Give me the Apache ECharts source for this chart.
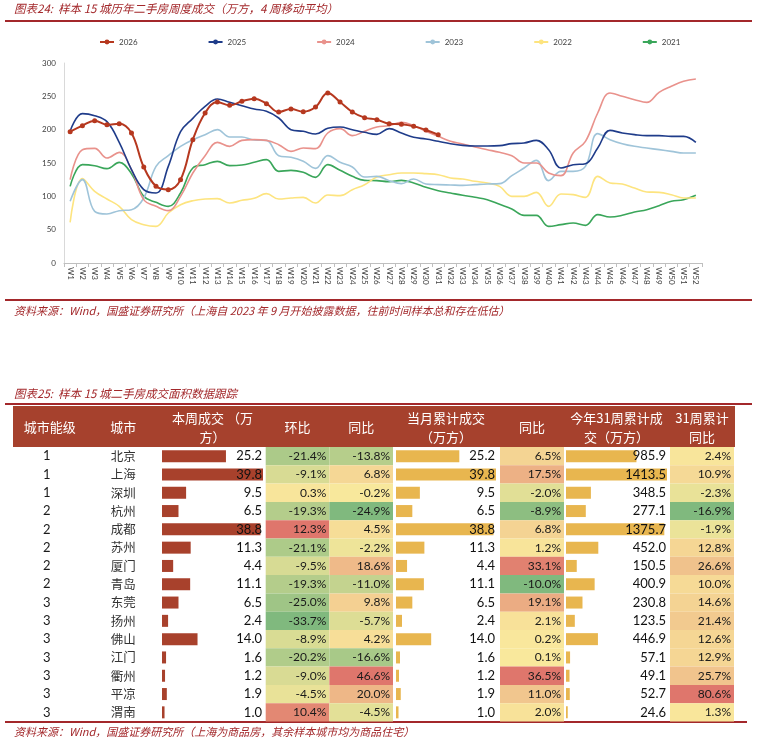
<!DOCTYPE html>
<html lang="zh-CN">
<head>
<meta charset="UTF-8">
<title>样本15城二手房成交</title>
<style>
  * { margin: 0; padding: 0; }
  html, body { background: #fff; }
  #chart-container { width: 757px; height: 746px; }
</style>
</head>
<body>
<div id="chart-container"></div>
<script src="https://cdn.jsdelivr.net/npm/echarts@6/dist/echarts.min.js"></script>
<script>
// ---- weekly line chart data (万方, 4周移动平均) ----
var weeks = ['W1','W2','W3','W4','W5','W6','W7','W8','W9','W10','W11','W12','W13',
  'W14','W15','W16','W17','W18','W19','W20','W21','W22','W23','W24','W25','W26',
  'W27','W28','W29','W30','W31','W32','W33','W34','W35','W36','W37','W38','W39',
  'W40','W41','W42','W43','W44','W45','W46','W47','W48','W49','W50','W51','W52'];
var yTicks = [0, 50, 100, 150, 200, 250, 300];

var y2026 = [197, 206, 213.5, 207.5, 209, 195, 144, 115, 110, 125, 185, 225, 241.5,
  236.5, 242.5, 246.5, 239, 226.5, 231, 227, 234, 255, 241.5, 226.5, 218, 215,
  209, 208, 205, 199.5, 192.5];
var y2025 = [198, 224, 221, 212, 181, 140, 110, 105, 145, 197, 217, 235, 246,
  241, 236, 231, 227.5, 217.5, 200, 197.5, 193.5, 202, 204, 200, 196, 193,
  201.5, 195, 188.5, 186, 182.5, 179, 176.5, 175.5, 175.5, 176, 179, 180, 184,
  170, 142.5, 147.5, 149, 172.5, 199, 195, 192.5, 191, 191, 190, 190, 181];
var y2024 = [125, 170, 172, 157.5, 166, 140, 95, 85, 78.5, 100, 135, 161, 181,
  175, 184, 185, 184, 177.5, 167.5, 172.5, 171.5, 195, 201.5, 191, 197.5, 204,
  206, 211, 206, 197.5, 190, 182.5, 178.5, 174, 170, 166, 161, 150, 150,
  135, 131, 165, 182.5, 225, 255, 250, 245, 241, 256, 265, 272.5, 276];
var y2023 = [92.5, 125, 77.5, 73.5, 78.5, 80, 97.5, 145, 161, 175, 185, 192.5, 200,
  189, 189, 184.5, 184, 161, 158.5, 152.5, 142, 161, 151, 144, 129, 130,
  123.5, 119, 126, 118.5, 117.5, 117, 116.5, 117.5, 118.5, 119, 131, 142.5, 154,
  123.5, 137.5, 137.5, 145, 194, 185, 179, 175, 172.5, 170, 167.5, 165, 165];
var y2022 = [61, 126.5, 107.5, 96, 85, 65, 57.5, 55, 75, 87.5, 93.5, 96, 96.5,
  90, 94, 97, 104, 96, 97.5, 98.5, 90, 102, 101, 110, 117.5, 129,
  132.5, 135, 135, 134, 132.5, 127.5, 126, 122.5, 120, 115, 100, 100, 106,
  85, 103.5, 102.5, 98.5, 130, 120, 118.5, 112.5, 106.5, 106, 102.5, 97.5, 97.5];
var y2021 = [115, 147.5, 146, 141.5, 151, 134, 100, 91, 85, 105, 142.5, 147.5, 152.5,
  146, 147, 151, 155, 137.5, 139, 136, 128.5, 147.5, 139, 130, 124, 123.5,
  122, 124, 120, 113.5, 108.5, 105, 101.5, 98.5, 95, 88, 81, 71.5, 71.5,
  55, 57.5, 60, 56.5, 72.5, 69, 71.5, 76.5, 80, 86, 92.5, 95, 101.5];

// ---- table data ----
var tiers = [1, 1, 1, 2, 2, 2, 2, 2, 3, 3, 3, 3, 3, 3, 3];
var cities = ['北京', '上海', '深圳', '杭州', '成都', '苏州', '厦门', '青岛',
  '东莞', '扬州', '佛山', '江门', '衢州', '平凉', '渭南'];
var weekVol = [25.2, 39.8, 9.5, 6.5, 38.8, 11.3, 4.4, 11.1, 6.5, 2.4, 14.0, 1.6, 1.2, 1.9, 1.0];
var weekMoM = [-21.4, -9.1, 0.3, -19.3, 12.3, -21.1, -9.5, -19.3, -25.0, -33.7, -8.9, -20.2, -9.0, -4.5, 10.4];
var weekYoY = [-13.8, 6.8, -0.2, -24.9, 4.5, -2.2, 18.6, -11.0, 9.8, -5.7, 4.2, -16.6, 46.6, 20.0, -4.5];
var monthVol = [25.2, 39.8, 9.5, 6.5, 38.8, 11.3, 4.4, 11.1, 6.5, 2.4, 14.0, 1.6, 1.2, 1.9, 1.0];
var monthYoY = [6.5, 17.5, -2.0, -8.9, 6.8, 1.2, 33.1, -10.0, 19.1, 2.1, 0.2, 0.1, 36.5, 11.0, 2.0];
var ytdVol = [985.9, 1413.5, 348.5, 277.1, 1375.7, 452.0, 150.5, 400.9, 230.8, 123.5, 446.9, 57.1, 49.1, 52.7, 24.6];
var ytdYoY = [2.4, 10.9, -2.3, -16.9, -1.9, 12.8, 26.6, 10.0, 14.6, 21.4, 12.6, 12.9, 25.7, 80.6, 1.3];

var headers = [['城市能级'], ['城市'], ['本周成交 （万', '方）'], ['环比'], ['同比'],
  ['当月累计成交', '（万方）'], ['同比'], ['今年31周累计成', '交（万方）'], ['31周累计', '同比']];

var texts = {
  title1: '图表24:  样本 15 城历年二手房周度成交（万方，4 周移动平均）',
  source1: '资料来源：Wind，国盛证券研究所（上海自 2023 年 9 月开始披露数据，往前时间样本总和存在低估）',
  title2: '图表25:  样本 15 城二手房成交面积数据跟踪',
  source2: '资料来源：Wind，国盛证券研究所（上海为商品房，其余样本城市均为商品住宅）'
};

// ---- styling ----
var CJK = '"Noto Sans CJK SC", sans-serif';
var NUM = 'Lato, "Noto Sans", sans-serif';
var darkRed = '#a3282b';
var headerRed = '#a6412d';
var green = [128, 185, 126], yellow = [249, 232, 156], red = [223, 118, 108];

function mix(a, b, t) {
  return 'rgb(' + a.map(function (v, k) { return Math.round(v + (b[k] - v) * t); }).join(',') + ')';
}
// 3-colour scale like the spreadsheet: lowest green, 0 yellow, highest red
function cellColor(v, arr) {
  var lo = Math.min.apply(null, arr), hi = Math.max.apply(null, arr);
  if (v >= 0) return mix(yellow, red, hi > 0 ? v / hi : 0);
  return mix(yellow, green, lo < 0 ? v / lo : 0);
}

// table column layout (px)
var tableTop = 447, tableHeight = 274.5;
var tableCols = [
  { left: 13, width: 147, bands: 2 },     // tier, city
  { left: 162, width: 101 },              // 本周成交 bar
  { left: 265.7, width: 127.3, bands: 2 },// 环比, 同比
  { left: 396, width: 100 },              // 当月累计 bar
  { left: 500, width: 64, bands: 1 },     // 同比
  { left: 566, width: 101 },              // 今年累计 bar
  { left: 670, width: 64, bands: 1 }      // 31周同比
];

var chart = echarts.init(document.getElementById('chart-container'), null, { renderer: 'canvas' });

var grids = [{ left: 64, right: 55, top: 63, height: 200, outerBoundsMode: 'none' }];
var xAxes = [{
  type: 'category', data: weeks, gridIndex: 0, boundaryGap: true,
  axisLine: { lineStyle: { color: '#bfbfbf' } },
  axisTick: { show: true, length: 4, lineStyle: { color: '#bfbfbf' } },
  axisLabel: { interval: 0, rotate: -90, fontSize: 8, color: '#404040', margin: 4, fontFamily: NUM }
}];
var yAxes = [{
  type: 'value', gridIndex: 0, min: yTicks[0], max: yTicks[yTicks.length - 1], interval: 50,
  axisLine: { show: true, lineStyle: { color: '#d9d9d9' } },
  axisTick: { show: false }, splitLine: { show: false },
  axisLabel: { fontSize: 8, color: '#404040', margin: 8, fontFamily: NUM }
}];
var maxes = { 1: Math.max.apply(null, weekVol), 3: Math.max.apply(null, monthVol), 5: Math.max.apply(null, ytdVol) };

tableCols.forEach(function (c, k) {
  grids.push({ left: c.left, width: c.width, top: tableTop, height: tableHeight, outerBoundsMode: 'none' });
  if (c.bands) {
    var cats = [];
    for (var b = 0; b < c.bands; b++) cats.push(b);
    xAxes.push({ type: 'category', data: cats, gridIndex: k + 1, show: false });
  } else {
    xAxes.push({ type: 'value', min: 0, max: maxes[k], gridIndex: k + 1, show: false });
  }
  yAxes.push({ type: 'category', data: cities, inverse: true, gridIndex: k + 1, show: false });
});

// ---- series ----
var lineDefs = [
  { name: '2021', data: y2021, color: '#3aa65a' },
  { name: '2022', data: y2022, color: '#fde47f' },
  { name: '2023', data: y2023, color: '#9fc4d9' },
  { name: '2024', data: y2024, color: '#e9928c' },
  { name: '2025', data: y2025, color: '#1f3c8a' },
  { name: '2026', data: y2026, color: '#b6381f', marker: true }
];
var series = lineDefs.map(function (d) {
  return {
    type: 'line', name: d.name, data: d.data, xAxisIndex: 0, yAxisIndex: 0,
    smooth: 0.4,
    symbol: d.marker ? 'circle' : 'none', symbolSize: 5, showSymbol: !!d.marker,
    lineStyle: { width: d.marker ? 2 : 1.6, color: d.color },
    itemStyle: { color: d.color }
  };
});

function textCell(txt, x, y, align, font, fill) {
  return { type: 'text', x: x, y: y, style: { text: txt, align: align, verticalAlign: 'middle', font: font, fill: fill } };
}

// tier + city columns
series.push({
  type: 'custom', xAxisIndex: 1, yAxisIndex: 1, silent: true,
  data: tiers.map(function (t, i) { return [0, i]; }).concat(cities.map(function (c, i) { return [1, i]; })),
  renderItem: function (params, api) {
    var c = api.value(0), i = api.value(1);
    var p = api.coord([c, i]);
    return c === 0
      ? textCell(String(tiers[i]), p[0] - 3, p[1], 'center', '13px ' + NUM, '#1a1a1a')
      : textCell(cities[i], p[0], p[1], 'center', '12.5px ' + CJK, '#333');
  }
});

// bar columns with right-aligned values
function barColumn(axisIdx, values, color) {
  var mx = Math.max.apply(null, values);
  series.push({
    type: 'bar', xAxisIndex: axisIdx, yAxisIndex: axisIdx, data: values, silent: true,
    barWidth: 12, itemStyle: { color: color }
  });
  series.push({
    type: 'custom', xAxisIndex: axisIdx, yAxisIndex: axisIdx, silent: true, z: 5,
    data: values.map(function (v, i) { return [v, i]; }),
    renderItem: function (params, api) {
      var i = api.value(1);
      var p = api.coord([mx, i]);
      return textCell(values[i].toFixed(1), p[0] - 1, p[1], 'right', '13px ' + NUM, '#111');
    }
  });
}
barColumn(2, weekVol, '#a8412c');
barColumn(4, monthVol, '#e8b64f');
barColumn(6, ytdVol, '#e8b64f');

// coloured percentage columns
function heatColumn(axisIdx, cols) {
  var data = [];
  cols.forEach(function (arr, c) { arr.forEach(function (v, i) { data.push([c, i, v]); }); });
  series.push({
    type: 'custom', xAxisIndex: axisIdx, yAxisIndex: axisIdx, silent: true, data: data,
    renderItem: function (params, api) {
      var c = api.value(0), i = api.value(1), v = api.value(2);
      var p = api.coord([c, i]);
      var s = api.size([1, 1]);
      var x0 = p[0] - s[0] / 2, y0 = p[1] - s[1] / 2;
      return {
        type: 'group', children: [
          { type: 'rect', shape: { x: x0, y: y0, width: s[0], height: s[1] }, style: { fill: cellColor(v, cols[c]) } },
          textCell(v.toFixed(1) + '%', x0 + s[0] - 3, p[1], 'right', '12px ' + NUM, '#1a1a1a')
        ]
      };
    }
  });
}
heatColumn(3, [weekMoM, weekYoY]);
heatColumn(5, [monthYoY]);
heatColumn(7, [ytdYoY]);

// ---- header + decorations ----
var headerCenters = [];
tableCols.forEach(function (c) {
  var n = c.bands || 1;
  for (var b = 0; b < n; b++) headerCenters.push(c.left + c.width * (b + 0.5) / n);
});
var graphics = [
  { type: 'rect', shape: { x: 13, y: 406, width: 722, height: 41 }, style: { fill: headerRed }, silent: true }
];
headers.forEach(function (lines, k) {
  var x = headerCenters[k];
  if (lines.length === 1) {
    graphics.push(textCell(lines[0], x, 427, 'center', '13px ' + CJK, '#fff'));
  } else {
    graphics.push(textCell(lines[0], x, 418, 'center', '13px ' + CJK, '#fff'));
    graphics.push(textCell(lines[1], x, 437, 'center', '13px ' + CJK, '#fff'));
  }
});
[[5, 21, 752], [5, 300, 752], [5, 404, 752], [5, 722, 747]].forEach(function (l) {
  graphics.push({ type: 'line', shape: { x1: l[0], y1: l[1], x2: l[2], y2: l[1] }, style: { stroke: darkRed, lineWidth: 2 }, silent: true });
});
var italicTitle = 'italic 11.5px ' + CJK, italicSrc = 'italic 11px ' + CJK;
graphics.push(textCell(texts.title1, 14, 9, 'left', italicTitle, darkRed));
graphics.push(textCell(texts.source1, 14, 311, 'left', italicSrc, darkRed));
graphics.push(textCell(texts.title2, 14, 394, 'left', italicTitle, darkRed));
graphics.push(textCell(texts.source2, 14, 732, 'left', italicSrc, darkRed));

var option = {
  animation: false,
  backgroundColor: '#fff',
  legend: {
    data: ['2026', '2025', '2024', '2023', '2022', '2021'],
    top: 33, left: 94, itemWidth: 14, itemHeight: 6, itemGap: 70,
    textStyle: { fontSize: 8, color: '#404040', fontFamily: NUM }
  },
  grid: grids,
  xAxis: xAxes,
  yAxis: yAxes,
  series: series,
  graphic: graphics
};
chart.setOption(option);
window.addEventListener('resize', chart.resize);
</script>
</body>
</html>
